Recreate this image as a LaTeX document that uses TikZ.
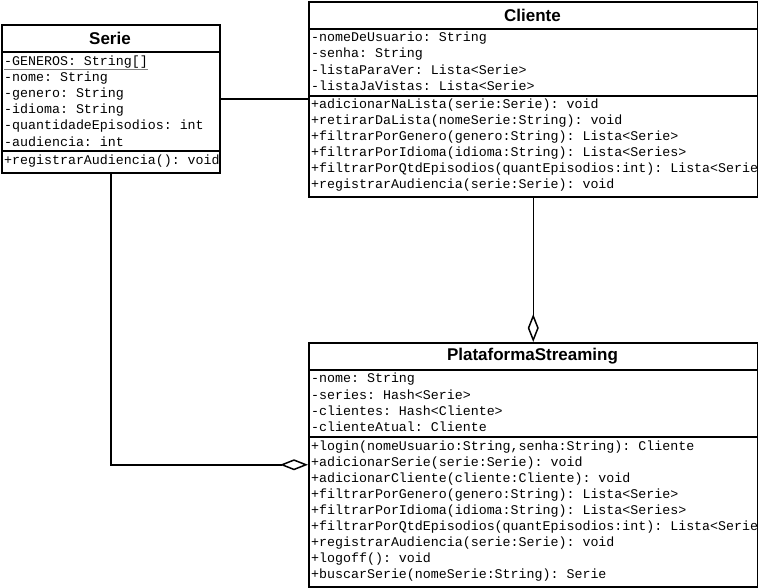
\documentclass[tikz,border=0pt]{standalone}
\usepackage{fontspec}
\setmainfont{Liberation Sans}
\newfontfamily\umlmono{Liberation Mono}
\usetikzlibrary{arrows.meta,positioning}
\frenchspacing

\begin{document}
\begin{tikzpicture}[
  x=1pt,y=-1pt,
  classbox/.style={draw,line width=1.5pt,inner sep=0pt,anchor=north west},
  classname/.style={font=\bfseries\fontsize{17}{17}\selectfont},
  member/.style={anchor=west,inner sep=0pt,
                 font=\umlmono\fontsize{13.3}{16}\selectfont},
  sep/.style={line width=1.5pt},
  assoc/.style={line width=1.5pt},
  aggr/.style={line width=1.5pt,
               -{Diamond[open,fill=white,length=28pt,width=11pt,line width=1.5pt]}}
]
\useasboundingbox (0,0) rectangle (758,587);

% class boxes
\node[classbox,minimum width=218pt,minimum height=148pt](serie) at (1,24){};
\node[classbox,minimum width=449pt,minimum height=195pt](cliente) at (308,1){};
\node[classbox,minimum width=449pt,minimum height=244pt](plat) at (308,342){};

% Serie
\node[classname] (serie-t) at (110,38) {Serie};
\begin{scope}
  \clip (1,24) rectangle (219,172);
  \foreach \txt [count=\i] in {{-GENEROS: String[]},{-nome: String},
      {-genero: String},{-idioma: String},
      {-quantidadeEpisodios: int},{-audiencia: int}}
    \node[member] (serie-a\i) at (4,46+16*\i) {\txt};
  \node[member] (serie-m1) at (4,161) {+registrarAudiencia(): void};
\end{scope}
\draw[gray,line width=1pt] ([yshift=-4pt]serie-a1.base west)
  -- ([yshift=-4pt]serie-a1.base east);
\draw[sep] (1,52) -- (219,52);
\draw[sep] (1,151) -- (219,151);

% Cliente
\node[classname] (cliente-t) at (532.5,15) {Cliente};
\begin{scope}
  \clip (308,1) rectangle (757,196);
  \foreach \txt [count=\i] in {{-nomeDeUsuario: String},{-senha: String},
      {-listaParaVer: Lista<Serie>},{-listaJaVistas: Lista<Serie>}}
    \node[member] (cliente-a\i) at (311,22+16*\i) {\txt};
  \foreach \txt [count=\i] in {{+adicionarNaLista(serie:Serie): void},
      {+retirarDaLista(nomeSerie:String): void},
      {+filtrarPorGenero(genero:String): Lista<Serie>},
      {+filtrarPorIdioma(idioma:String): Lista<Series>},
      {+filtrarPorQtdEpisodios(quantEpisodios:int): Lista<Serie>},
      {+registrarAudiencia(serie:Serie): void}}
    \node[member] (cliente-m\i) at (311,89+16*\i) {\txt};
\end{scope}
\draw[sep] (308,29) -- (757,29);
\draw[sep] (308,96) -- (757,96);

% PlataformaStreaming
\node[classname] (plat-t) at (532.5,356) {PlataformaStreaming};
\begin{scope}
  \clip (308,342) rectangle (757,586);
  \foreach \txt [count=\i] in {{-nome: String},{-series: Hash<Serie>},
      {-clientes: Hash<Cliente>},{-clienteAtual: Cliente}}
    \node[member] (plat-a\i) at (311,363+16*\i) {\txt};
  \foreach \txt [count=\i] in {{+login(nomeUsuario:String,senha:String): Cliente},
      {+adicionarSerie(serie:Serie): void},
      {+adicionarCliente(cliente:Cliente): void},
      {+filtrarPorGenero(genero:String): Lista<Serie>},
      {+filtrarPorIdioma(idioma:String): Lista<Series>},
      {+filtrarPorQtdEpisodios(quantEpisodios:int): Lista<Serie>},
      {+registrarAudiencia(serie:Serie): void},
      {+logoff(): void},
      {+buscarSerie(nomeSerie:String): Serie}}
    \node[member] (plat-m\i) at (311,431+16*\i) {\txt};
\end{scope}
\draw[sep] (308,370) -- (757,370);
\draw[sep] (308,437) -- (757,437);

% connectors
\draw[assoc] (serie.east) -- (serie.east -| cliente.west);
\draw[aggr] (cliente.south) -- (plat.north);
\draw[aggr] (serie.south) |- (plat.west);
\end{tikzpicture}
\end{document}
